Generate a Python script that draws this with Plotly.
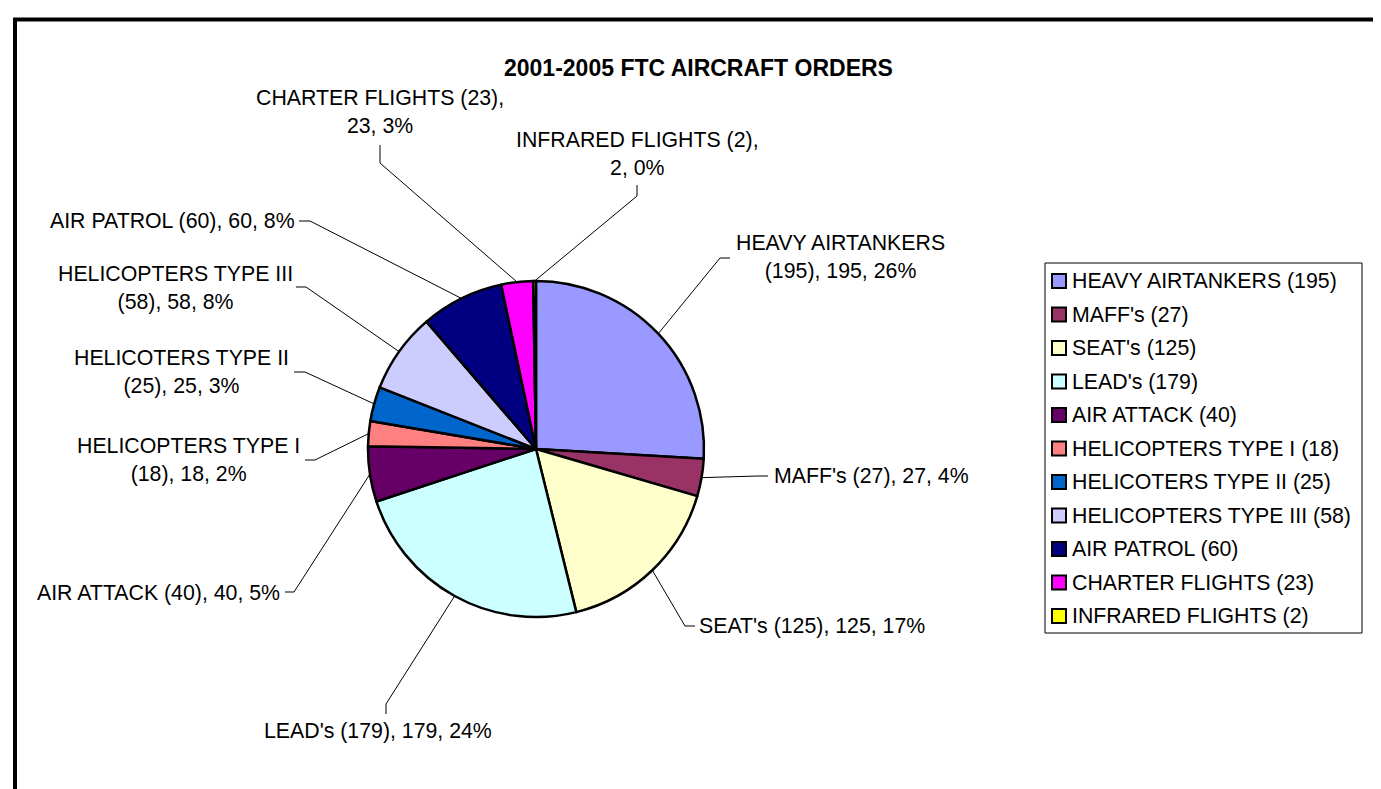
import math
import plotly.graph_objects as go

W, H = 1381, 789

categories = [
    "HEAVY AIRTANKERS (195)",
    "MAFF's (27)",
    "SEAT's (125)",
    "LEAD's (179)",
    "AIR ATTACK (40)",
    "HELICOPTERS TYPE I (18)",
    "HELICOTERS TYPE II (25)",
    "HELICOPTERS TYPE III (58)",
    "AIR PATROL (60)",
    "CHARTER FLIGHTS (23)",
    "INFRARED FLIGHTS (2)",
]
values = [195, 27, 125, 179, 40, 18, 25, 58, 60, 23, 2]
colors = [
    "#9999FF", "#993366", "#FFFFCC", "#CCFFFF", "#660066", "#FF8080",
    "#0066CC", "#CCCCFF", "#000080", "#FF00FF", "#FFFF00",
]

# pie geometry in pixels
CX, CY, R = 528, 441, 168
FONT = "Liberation Sans, Arial, sans-serif"
FS = 21.3

# label layout: text pos (px), xanchor, line break style, leader points (near label -> elbow)
label_layout = [
    (832, 249, "center", "paren", [(722, 250), (712, 250)]),
    (764, 468, "left", None, [(760, 468), (750, 468)]),
    (689, 618, "left", None, [(687, 618), (677, 618)]),
    (370, 723, "center", None, [(378, 706), (378, 696)]),
    (274, 585, "right", None, [(277, 584), (286, 584)]),
    (180, 452, "center", "paren", [(297, 452), (307, 452)]),
    (174, 364, "center", "paren", [(286, 364), (297, 364)]),
    (167, 280, "center", "paren", [(288, 279), (298, 279)]),
    (289, 213, "right", None, [(291, 213), (302, 213)]),
    (372, 104, "center", "comma", [(372, 137), (372, 155)]),
    (629, 146, "center", "comma", [(629, 177), (629, 188)]),
]


def px(x):
    return x / W


def py(y):
    return 1 - y / H


fig = go.Figure(
    go.Pie(
        labels=categories,
        values=values,
        sort=False,
        direction="clockwise",
        rotation=0,
        marker=dict(colors=colors, line=dict(color="black", width=2.5)),
        textinfo="none",
        hoverinfo="label+value+percent",
        domain=dict(x=[px(CX - R), px(CX + R)], y=[py(CY + R), py(CY - R)]),
        showlegend=False,
    )
)

total = sum(values)
shapes = []
annotations = []
cum = 0
for cat, v, lay in zip(categories, values, label_layout):
    lx, ly, xa, brk, pts = lay
    pct = round(v / total * 100)
    text = f"{cat}, {v}, {pct}%"
    if brk == "paren":
        i = text.rfind(" (", 0, text.find(","))
        text = text[:i] + "<br>" + text[i + 1:]
    elif brk == "comma":
        text = text.replace("), ", "),<br>", 1)
    annotations.append(dict(
        x=px(lx), y=py(ly), xref="paper", yref="paper", text=text,
        showarrow=False, xanchor=xa, yanchor="middle", align="center",
        font=dict(family=FONT, size=FS, color="black"),
    ))
    ang = math.radians((cum + v / 2) / total * 360)
    ax, ay = CX + R * math.sin(ang), CY - R * math.cos(ang)
    path_pts = pts + [(ax, ay)]
    path = "M " + " L ".join(f"{px(x):.5f},{py(y):.5f}" for x, y in path_pts)
    shapes.append(dict(type="path", path=path, xref="paper", yref="paper",
                       line=dict(color="black", width=1)))
    cum += v

# legend box
LX0, LY0, LX1, LY1 = 1037, 255, 1354, 625
shapes.append(dict(type="rect", xref="paper", yref="paper",
                   x0=px(LX0), x1=px(LX1), y0=py(LY1), y1=py(LY0),
                   line=dict(color="black", width=1)))
for i, (cat, col) in enumerate(zip(categories, colors)):
    yy = 273 + i * 33.5
    shapes.append(dict(type="rect", xref="paper", yref="paper",
                       x0=px(1044), x1=px(1058), y0=py(yy + 7), y1=py(yy - 7),
                       fillcolor=col, line=dict(color="black", width=2)))
    annotations.append(dict(
        x=px(1062), y=py(yy), xref="paper", yref="paper", text=cat,
        showarrow=False, xanchor="left", yanchor="middle",
        font=dict(family=FONT, size=FS, color="black"),
    ))

# title
annotations.append(dict(
    x=px(690), y=py(60), xref="paper", yref="paper",
    text="<b>2001-2005 FTC AIRCRAFT ORDERS</b>", showarrow=False,
    xanchor="center", yanchor="middle",
    font=dict(family=FONT, size=23, color="black"),
))

# outer chart border
shapes.append(dict(type="rect", xref="paper", yref="paper",
                   x0=px(7), x1=px(1374.5), y0=-0.05, y1=py(11.5),
                   line=dict(color="black", width=4)))

fig.update_layout(
    width=W,
    height=H,
    margin=dict(l=0, r=0, t=0, b=0),
    paper_bgcolor="white",
    plot_bgcolor="white",
    shapes=shapes,
    annotations=annotations,
    showlegend=False,
)

fig.write_html("out.html")
